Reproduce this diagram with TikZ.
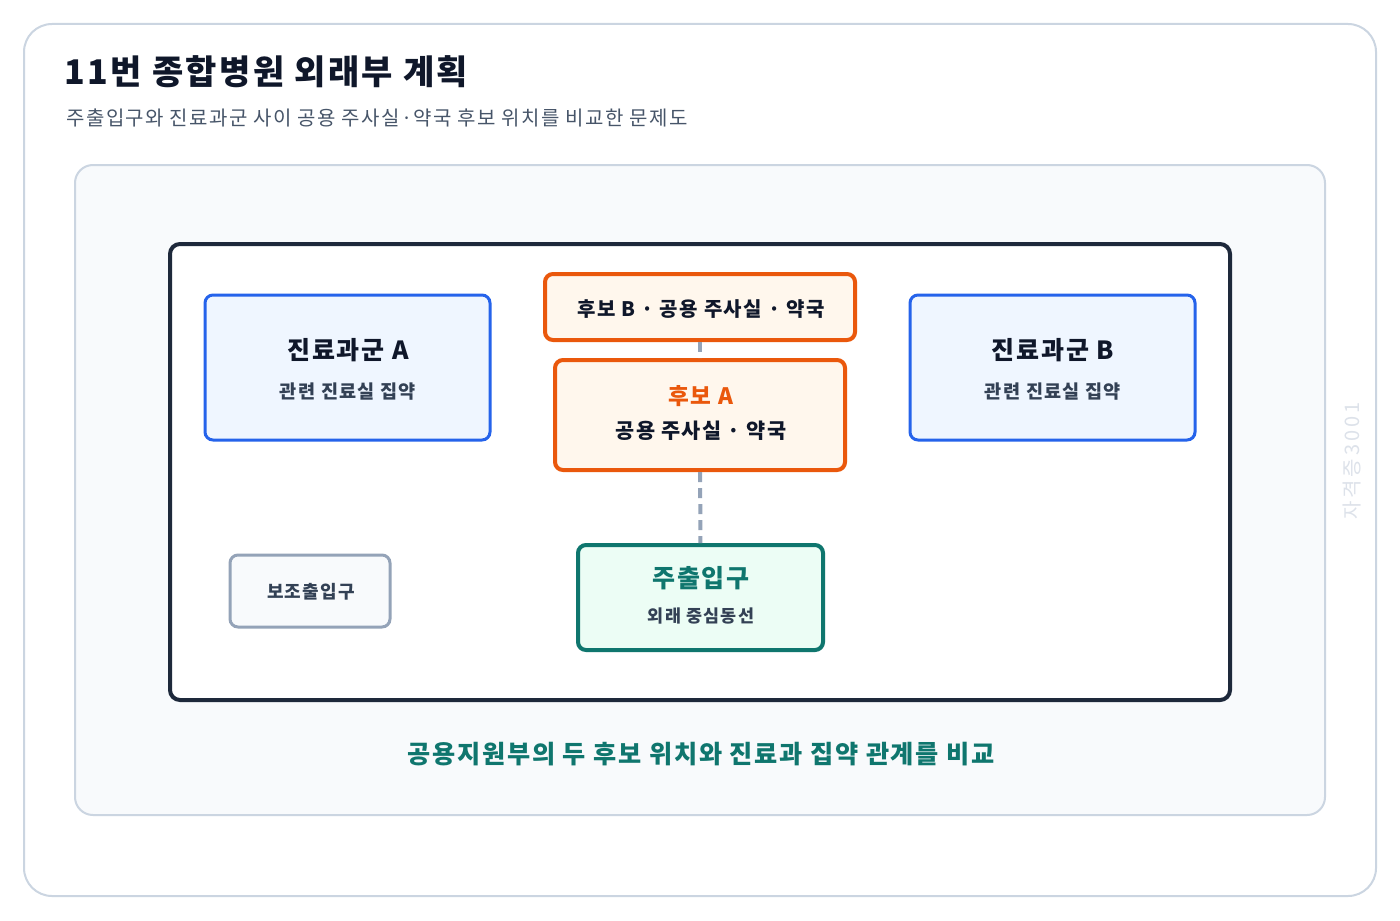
\documentclass[tikz,border=0pt]{standalone}
\usepackage{fontspec}
\setmainfont{Noto Sans CJK KR}[LetterSpace=7]
\newfontfamily\wmfont[LetterSpace=15]{Noto Sans CJK KR}
\definecolor{ink}{HTML}{0F172A}
\definecolor{subink}{HTML}{475569}
\definecolor{darkink}{HTML}{334155}
\definecolor{edge}{HTML}{CBD5E1}
\definecolor{panel}{HTML}{F8FAFC}
\definecolor{frame}{HTML}{1E293B}
\definecolor{deptline}{HTML}{2563EB}
\definecolor{deptfill}{HTML}{EFF6FF}
\definecolor{candline}{HTML}{EA580C}
\definecolor{candfill}{HTML}{FFF7ED}
\definecolor{entline}{HTML}{0F766E}
\definecolor{entfill}{HTML}{ECFDF5}
\definecolor{subline}{HTML}{94A3B8}
\definecolor{wmark}{HTML}{DDE2EA}

\begin{document}
\begin{tikzpicture}[x=0.5pt,y=-0.5pt,
  box/.style={rounded corners=4pt,inner sep=0pt},
  dept/.style={box,draw=deptline,fill=deptfill,line width=1.5pt,minimum width=142.5pt,minimum height=72.5pt},
  cand/.style={box,draw=candline,fill=candfill,line width=2pt},
  conn/.style={draw=subline,line width=2pt,dash pattern=on 5pt off 3pt},
  txt/.style={inner sep=0pt,font=\bfseries\fontsize{#1}{#1}\selectfont},
  txt/.default=10]
\useasboundingbox (0,0) rectangle (1400,920);
\draw[edge,fill=white,line width=1pt,rounded corners=14pt] (24,24) rectangle (1376,896);
\node[txt=17,anchor=west,text=ink] (title) at (64,72) {11번 종합병원 외래부 계획};
\node[inner sep=0pt,anchor=west,text=subink,font=\fontsize{10}{10}\selectfont] (subtitle) at (66,118)
  {주출입구와 진료과군 사이 공용 주사실·약국 후보 위치를 비교한 문제도};
\draw[edge,fill=panel,line width=1pt,rounded corners=9pt] (75,165) rectangle (1325,815);
\draw[frame,fill=white,line width=2pt,rounded corners=5pt] (170,244) rectangle (1230,700);

\node[dept] (deptA) at (347.5,367.5) {};
\node[dept] (deptB) at (1052.5,367.5) {};
\node[cand,minimum width=155pt,minimum height=33pt] (candB) at (700,307) {};
\node[cand,minimum width=145pt,minimum height=55pt] (candA) at (700,415) {};
\node[box,draw=entline,fill=entfill,line width=2pt,minimum width=122.5pt,minimum height=52.5pt] (mainEnt) at (700.5,597.5) {};
\node[box,draw=subline,fill=panel,line width=1.5pt,minimum width=80pt,minimum height=36pt] (subEnt) at (310,591) {};

\draw[conn] (candB) -- (candA);
\draw[conn] (candA) -- (mainEnt);

\node[txt=12.5,text=ink] (deptAt) at (348,350) {진료과군 A};
\node[txt=9.3,text=darkink] (deptAs) at (348,392) {관련 진료실 집약};
\node[txt=12.5,text=ink] (deptBt) at (1053,350) {진료과군 B};
\node[txt=9.3,text=darkink] (deptBs) at (1053,392) {관련 진료실 집약};
\node[txt=10,text=ink] (candBt) at (701,309) {후보 B · 공용 주사실 · 약국};
\node[txt=11.3,text=candline] (candAt) at (701,396) {후보 A};
\node[txt=10.4,text=ink] (candAs) at (701,431) {공용 주사실 · 약국};
\node[txt=12.5,text=entline] (mainEntt) at (701,578) {주출입구};
\node[txt=8.7,text=darkink] (mainEnts) at (701,616) {외래 중심동선};
\node[txt=9,text=darkink] (subEntt) at (311,592) {보조출입구};
\node[txt=12.6,text=entline] (caption) at (701,754) {공용지원부의 두 후보 위치와 진료과 집약 관계를 비교};
\node[inner sep=0pt,rotate=90,text=wmark,font=\wmfont\fontsize{10}{10}\selectfont] (wmark) at (1352,461) {자격증3001};
\end{tikzpicture}
\end{document}
